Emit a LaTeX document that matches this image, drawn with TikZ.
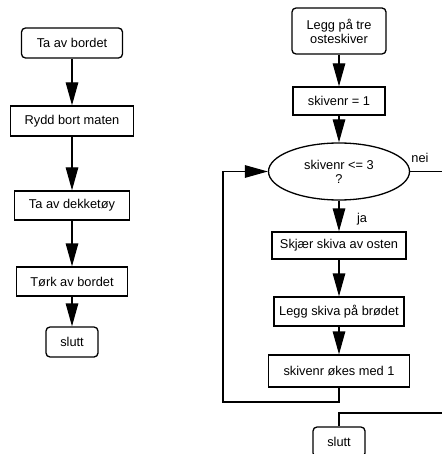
\documentclass[tikz,border=0pt]{standalone}
\usepackage{fontspec}
\setmainfont{Liberation Sans}
\usetikzlibrary{arrows.meta,shapes.geometric}
\begin{document}
\begin{tikzpicture}[x=1pt,y=-1pt,
  every node/.style={font=\fontsize{12.8}{14}\selectfont, inner sep=0pt, align=center},
  box/.style={draw, line width=1.3pt, rectangle},
  roundbox/.style={box, rounded corners=4pt},
  decision/.style={draw, line width=1.3pt, ellipse, minimum width=141pt, minimum height=57pt},
  flow/.style={line width=1.3pt, -{Triangle[length=23pt,width=12.5pt]}},
  link/.style={line width=1.3pt}]
\useasboundingbox[fill=white] (0,0) rectangle (441,454);

% Left flow: clearing the table
\node[roundbox, minimum width=101pt, minimum height=30pt] (l1) at (72,43) {Ta av bordet};
\node[box, minimum width=123pt, minimum height=30pt] (l2) at (72,121) {Rydd bort maten};
\node[box, minimum width=115pt, minimum height=29pt] (l3) at (72,205.5) {Ta av dekketøy};
\node[box, minimum width=111pt, minimum height=29pt] (l4) at (72,281.5) {Tørk av bordet};
\node[roundbox, minimum width=52pt, minimum height=30pt] (l5) at (72,342) {slutt};

\draw[flow] (l1) -- (l2);
\draw[flow] (l2) -- (l3);
\draw[flow] (l3) -- (l4);
\draw[flow] (l4) -- (l5);

% Right flow: three cheese slices in a loop
\node[roundbox, minimum width=94pt, minimum height=46pt] (r1) at (339,31) {Legg på tre\\osteskiver};
\node[box, minimum width=92pt, minimum height=28pt] (r2) at (339,101) {skivenr = 1};
\node[decision] (test) at (339,171.5) {skivenr <= 3\\?};
\node[box, minimum width=134pt, minimum height=27pt] (r3) at (339,245.5) {Skjær skiva av osten};
\node[box, minimum width=130pt, minimum height=29pt] (r4) at (339,311.5) {Legg skiva på brødet};
\node[box, minimum width=141pt, minimum height=32pt] (r5) at (339,371) {skivenr økes med 1};
\node[roundbox, minimum width=52pt, minimum height=30pt] (r6) at (339,442) {slutt};

\draw[flow] (r1) -- (r2);
\draw[flow] (r2) -- (test);
\draw[flow] (test) -- (r3);
\draw[flow] (r3) -- (r4);
\draw[flow] (r4) -- (r5);

% loop back to the test
\coordinate (back) at (223,402);
\draw[flow] (r5.south) |- (back) |- (test.west);

% exit branch
\coordinate (exitc) at (444,413);
\draw[link] (test.east) -| (exitc) -| (r6.north);

\node (nei) at (420,158) {nei};
\node (ja) at (362,219) {ja};
\end{tikzpicture}
\end{document}
